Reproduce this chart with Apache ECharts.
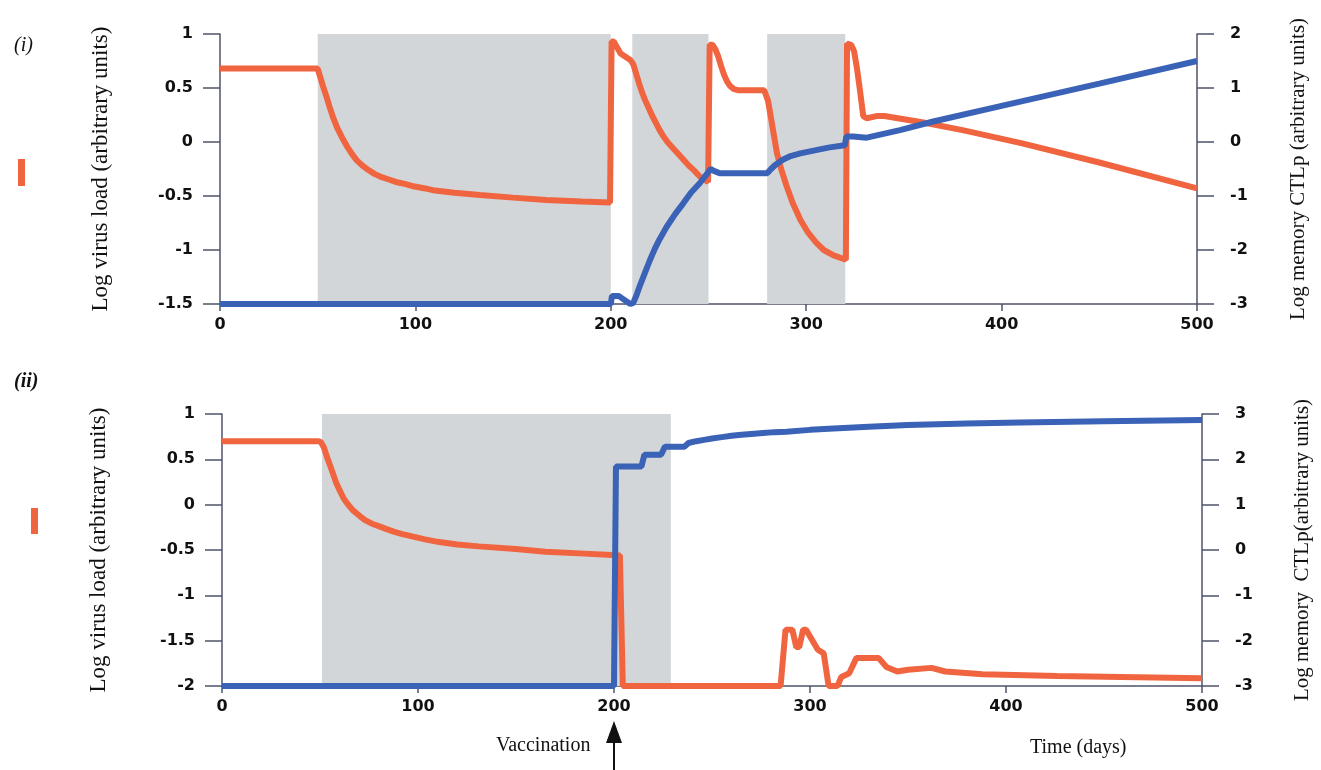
<!DOCTYPE html>
<html>
<head>
<meta charset="utf-8">
<script src="https://cdn.jsdelivr.net/npm/echarts@6/dist/echarts.min.js"></script>
<style>
html,body{margin:0;padding:0;background:#fff;}
#main{width:1321px;height:770px;}
</style>
</head>
<body>
<div id="main"></div>
<script>
// panel (i) - virus load (left axis)
var topVirusDays = [0, 50, 51, 52, 53, 54.5, 56, 58, 60, 62.5, 65, 67.5, 70, 73, 76, 79, 82, 86, 90, 95, 99, 105, 110, 120, 133, 150, 167, 185, 199.6,
  200.4, 201.5, 202.5, 205, 210, 211.5, 213, 214.5, 216, 217.5, 219, 221, 223, 225, 227, 229, 231.5, 234, 237, 240, 243, 245.5, 249.8,
  250.6, 252, 253.5, 255, 256.5, 258, 259.5, 261, 263, 265, 278.5,
  280.5, 282, 283.5, 285, 287, 290, 293, 297, 301, 305, 309, 314, 320.3,
  320.9, 323, 324.5, 326, 327.5, 329.2, 331, 336, 340, 360, 380, 410, 450, 500];
var topVirusVals = [0.68, 0.68, 0.62, 0.56, 0.5, 0.42, 0.33, 0.22, 0.13, 0.04, -0.04, -0.11, -0.17, -0.22, -0.26, -0.295, -0.32, -0.345, -0.37, -0.39, -0.41, -0.43, -0.45, -0.47, -0.49, -0.515, -0.537, -0.55, -0.56,
  0.93, 0.93, 0.92, 0.82, 0.76, 0.72, 0.63, 0.54, 0.46, 0.39, 0.33, 0.25, 0.18, 0.11, 0.05, 0.0, -0.05, -0.1, -0.16, -0.22, -0.27, -0.32, -0.37,
  0.9, 0.9, 0.86, 0.79, 0.7, 0.62, 0.56, 0.52, 0.49, 0.48, 0.48,
  0.38, 0.22, 0.06, -0.1, -0.24, -0.41, -0.56, -0.72, -0.84, -0.93, -1.0, -1.05, -1.09,
  0.91, 0.9, 0.84, 0.68, 0.48, 0.24, 0.22, 0.24, 0.24, 0.18, 0.11, -0.01, -0.19, -0.43];

// panel (i) - memory CTLp (right axis)
var topCtlDays = [0, 200, 200.6, 204, 206, 210, 211.5, 213, 215, 217.5, 220, 222.5, 225, 228.6, 233, 237, 241, 245.6, 249, 251, 253, 256,
  280, 282, 284, 286, 288, 292, 297, 305, 312, 319.8, 320.5, 324, 331, 348, 365, 400, 450, 500];
var topCtlVals = [-3, -3, -2.85, -2.85, -2.9, -3, -2.98, -2.85, -2.65, -2.42, -2.19, -1.98, -1.8, -1.57, -1.33, -1.14, -0.94, -0.76, -0.6, -0.5, -0.54, -0.58,
  -0.58, -0.5, -0.43, -0.38, -0.33, -0.26, -0.21, -0.15, -0.1, -0.06, 0.1, 0.1, 0.08, 0.22, 0.38, 0.67, 1.08, 1.5];

// panel (ii) - virus load (left axis)
var botVirusDays = [0, 49, 50.5, 52, 53.5, 55, 56.5, 58.3, 60, 62, 64, 66.7, 70, 73, 76.5, 80.3, 84, 88, 92, 97, 103, 110, 120, 131, 150, 165, 185, 199, 203, 204.5,
  285, 287.5, 291, 293, 294.5, 296.5, 298, 301, 304, 307, 309.5, 314, 316, 320, 323.7, 335, 339, 344.5, 350, 362, 369, 388, 426, 500];
var botVirusVals = [0.7, 0.7, 0.69, 0.63, 0.53, 0.44, 0.35, 0.24, 0.16, 0.07, 0.01, -0.06, -0.12, -0.17, -0.21, -0.24, -0.27, -0.3, -0.325, -0.35, -0.38, -0.41, -0.44, -0.46, -0.49, -0.52, -0.54, -0.555, -0.56, -2,
  -2, -1.38, -1.38, -1.57, -1.57, -1.38, -1.38, -1.49, -1.6, -1.64, -2, -2, -1.9, -1.86, -1.69, -1.69, -1.79, -1.84, -1.82, -1.8, -1.84, -1.87, -1.89, -1.915];

// panel (ii) - memory CTLp (right axis)
var botCtlDays = [0, 200, 201, 214, 215.5, 224, 226, 236, 238, 242, 246, 250, 255, 260, 265, 270, 276, 282, 288, 300, 312, 330, 350, 380, 407, 450, 500];
var botCtlVals = [-3, -3, 1.84, 1.84, 2.1, 2.1, 2.28, 2.28, 2.36, 2.4, 2.43, 2.46, 2.49, 2.52, 2.54, 2.56, 2.58, 2.6, 2.61, 2.65, 2.68, 2.72, 2.76, 2.79, 2.81, 2.84, 2.87];

// shaded periods [start, end]
var topShade = [[50, 200], [211, 250], [280, 320]];
var botShade = [[51, 229]];

function pairs(xs, ys) {
  var out = [];
  for (var i = 0; i < xs.length; i++) out.push([xs[i], ys[i]]);
  return out;
}
function shadeAreas(list) {
  return list.map(function (s) { return [{xAxis: s[0]}, {xAxis: s[1]}]; });
}

var RED = '#f0653f', BLUE = '#3a62b6', AXIS = '#4f5369', SHADE = '#d3d6d9';
var tickFont = {fontFamily: 'DejaVu Sans', fontWeight: 'bold', fontSize: 16, color: '#111'};

function xAxisCfg(gi) {
  return {
    type: 'value', gridIndex: gi, min: 0, max: 500, interval: 100,
    axisLine: {show: true, onZero: false, lineStyle: {color: AXIS, width: 1.5}},
    axisTick: {show: true, length: 7, lineStyle: {color: AXIS, width: 1.5}},
    axisLabel: Object.assign({margin: 13}, tickFont),
    splitLine: {show: false}
  };
}
function yAxisCfg(gi, pos, min, max, interval, name, gap, fs) {
  return {
    type: 'value', gridIndex: gi, position: pos, min: min, max: max, interval: interval,
    name: name, nameLocation: 'middle', nameRotate: 90, nameGap: gap,
    nameTextStyle: {fontFamily: 'Liberation Serif', fontSize: fs, color: '#111'},
    axisLine: {show: true, onZero: false, lineStyle: {color: AXIS, width: 1.5}},
    axisTick: {show: true, length: 17, lineStyle: {color: AXIS, width: 1.5}},
    axisLabel: Object.assign({margin: pos === 'left' ? 27 : 33, align: pos === 'left' ? 'right' : 'left'}, tickFont),
    splitLine: {show: false}
  };
}

var chart = echarts.init(document.getElementById('main'));
chart.setOption({
  backgroundColor: '#fff',
  animation: false,
  grid: [
    {left: 220, top: 34, width: 977, height: 270},
    {left: 222, top: 414, width: 984, height: 272}
  ],
  xAxis: [xAxisCfg(0), xAxisCfg(1)],
  yAxis: [
    yAxisCfg(0, 'left', -1.5, 1, 0.5, 'Log virus load (arbitrary units)', 108, 23),
    yAxisCfg(0, 'right', -3, 2, 1, 'Log memory CTLp (arbitrary units)', 91, 21),
    yAxisCfg(1, 'left', -2, 1, 0.5, 'Log virus load (arbitrary units)', 112, 23),
    yAxisCfg(1, 'right', -3, 3, 1, 'Log memory  CTLp(arbitrary units)', 90, 21)
  ],
  series: [
    {type: 'line', xAxisIndex: 0, yAxisIndex: 0, data: [], z: 1, silent: true,
      markArea: {silent: true, itemStyle: {color: SHADE}, data: shadeAreas(topShade)}},
    {type: 'line', xAxisIndex: 1, yAxisIndex: 2, data: [], z: 1, silent: true,
      markArea: {silent: true, itemStyle: {color: SHADE}, data: shadeAreas(botShade)}},
    {name: 'virus (i)', type: 'line', xAxisIndex: 0, yAxisIndex: 0, data: pairs(topVirusDays, topVirusVals),
      showSymbol: false, z: 3, lineStyle: {color: RED, width: 6}},
    {name: 'CTLp (i)', type: 'line', xAxisIndex: 0, yAxisIndex: 1, data: pairs(topCtlDays, topCtlVals),
      showSymbol: false, z: 4, lineStyle: {color: BLUE, width: 6}},
    {name: 'virus (ii)', type: 'line', xAxisIndex: 1, yAxisIndex: 2, data: pairs(botVirusDays, botVirusVals),
      showSymbol: false, z: 3, lineStyle: {color: RED, width: 6}},
    {name: 'CTLp (ii)', type: 'line', xAxisIndex: 1, yAxisIndex: 3, data: pairs(botCtlDays, botCtlVals),
      showSymbol: false, z: 4, lineStyle: {color: BLUE, width: 6}}
  ],
  graphic: [
    {type: 'text', left: 14, top: 36, style: {text: '(i)', font: 'italic 20px "Liberation Serif"', fill: '#111'}},
    {type: 'text', left: 14, top: 372, style: {text: '(ii)', font: 'italic bold 20px "Liberation Serif"', fill: '#111'}},
    {type: 'rect', shape: {x: 18, y: 159, width: 7, height: 27}, style: {fill: RED}},
    {type: 'rect', shape: {x: 31, y: 508, width: 7, height: 26}, style: {fill: RED}},
    {type: 'text', left: 496, top: 736, style: {text: 'Vaccination', font: '20px "Liberation Serif"', fill: '#111'}},
    {type: 'text', left: 1030, top: 738, style: {text: 'Time (days)', font: '20px "Liberation Serif"', fill: '#111'}},
    {type: 'polygon', shape: {points: [[614, 721], [606, 743], [622, 743]]}, style: {fill: '#111'}},
    {type: 'rect', shape: {x: 613, y: 742, width: 2, height: 28}, style: {fill: '#111'}}
  ]
});
</script>
</body>
</html>
